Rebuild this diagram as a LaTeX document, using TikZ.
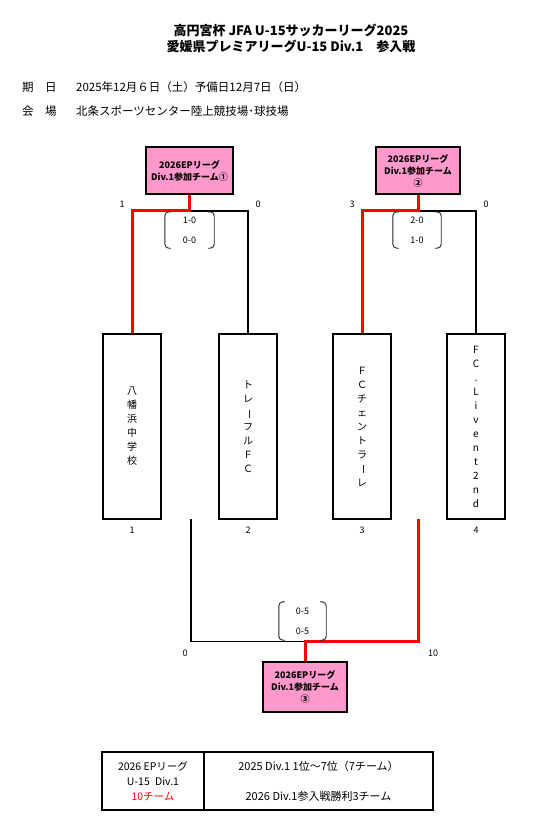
\documentclass[tikz,border=0pt]{standalone}
\usepackage{fontspec}
\usepackage{graphicx}
\setmainfont{Noto Sans CJK JP}
\usetikzlibrary{calc}
\definecolor{epink}{RGB}{255,153,204}
\definecolor{ered}{RGB}{255,0,0}
\newcommand{\vbar}{\rotatebox[origin=c]{-90}{ー}}
\begin{document}
\begin{tikzpicture}[x=1pt,y=-1pt,
  pinkbox/.style={draw, line width=1.5pt, fill=epink, align=center,
    font=\bfseries\fontsize{9}{12}\selectfont, inner sep=0pt, minimum height=47pt},
  teambox/.style={draw, line width=1.5pt, fill=white, align=center,
    minimum width=58pt, minimum height=185pt, inner sep=0pt,
    font=\fontsize{10}{14}\selectfont},
  blk/.style={line width=1.5pt, black},
  redl/.style={line width=3pt, ered},
  brk/.style={line width=0.9pt, black!85, rounded corners=4pt},
  score/.style={font=\fontsize{9}{10}\selectfont, inner sep=0pt},
  scorebox/.style={align=center, inner sep=0pt, font=\fontsize{9}{20}\selectfont},
  info/.style={anchor=west, inner sep=0pt, font=\fontsize{11.5}{13}\selectfont},
  cell/.style={draw, line width=1.5pt, align=center, inner sep=0pt, minimum height=58pt,
    font=\fontsize{10.5}{15}\selectfont}
]
\useasboundingbox (0,0) rectangle (533,838);

% title
\node[align=center, font=\bfseries\fontsize{13}{16}\selectfont, inner sep=0pt] (title) at (291,38)
  {高円宮杯 JFA U-15サッカーリーグ2025\\愛媛県プレミアリーグU-15 Div.1\quad 参入戦};

% info
\node[info] (l1) at (22,87) {期　日};
\node[info] (d1) at (76,87) {2025年12月６日（土）予備日12月7日（日）};
\node[info] (l2) at (22,111) {会　場};
\node[info] (d2) at (76,111) {北条スポーツセンター陸上競技場･球技場};

% top boxes
\node[pinkbox, minimum width=87pt] (t1) at (189.5,170.5) {2026EPリーグ\\Div.1参加チーム①};
\node[pinkbox, minimum width=84pt] (t2) at (418,170.5) {2026EPリーグ\\Div.1参加チーム\\②};

% team boxes
\node[teambox] (team1) at (132,426.5) {八\\幡\\浜\\中\\学\\校};
\node[teambox] (team2) at (248,426.5) {ト\\レ\\\vbar\\フ\\ル\\Ｆ\\Ｃ};
\node[teambox] (team3) at (362,426.5) {Ｆ\\Ｃ\\チ\\ェ\\ン\\ト\\ラ\\\vbar\\レ};
\node[teambox] (team4) at (476,426.5) {F\\C\\.\\L\\i\\v\\e\\n\\t\\2\\n\\d};

% bottom box
\node[pinkbox, minimum width=84pt, minimum height=50pt] (t3) at (305,687) {2026EPリーグ\\Div.1参加チーム\\③};

% connectors match 1
\coordinate (j1) at ($(t1.south)+(0,16)$);
\draw[blk] (j1) -| (team2.north);
\draw[redl] (t1.south) -- (j1) -| (team1.north);
% match 2
\coordinate (j2) at ($(t2.south)+(0,16)$);
\draw[blk] (j2) -| (team4.north);
\draw[redl] (t2.south) -- (j2) -| (team3.north);
% match 3
\coordinate (b1) at (191,519);
\coordinate (b2) at (418,519);
\coordinate (j3) at ($(t3.north)+(0,-20)$);
\draw[blk] (b1) |- (j3);
\draw[redl] (b2) |- (j3) -- (t3.north);

% scores
\node[score] (s1a) at (122,204) {1};
\node[score] (s1b) at (258,204) {0};
\node[score] (s2a) at (352,204) {3};
\node[score] (s2b) at (486,204) {0};
\node[score] (s3a) at (185,653) {0};
\node[score] (s3b) at (433,653) {10};
\node[score] (n1) at (132,530) {1};
\node[score] (n2) at (248,530) {2};
\node[score] (n3) at (362,530) {3};
\node[score] (n4) at (476,530) {4};

% score brackets
\node[scorebox, minimum width=49pt, minimum height=36pt] (sc1) at (189.5,230) {1-0\\0-0};
\node[scorebox, minimum width=48pt, minimum height=36pt] (sc2) at (417,230) {2-0\\1-0};
\node[scorebox, minimum width=47pt, minimum height=38pt] (sc3) at (302.5,621) {0-5\\0-5};
\foreach \s in {sc1,sc2,sc3}{
  \draw[brk] ([xshift=6pt]\s.north west) -- (\s.north west) -- (\s.south west) -- ([xshift=6pt]\s.south west);
  \draw[brk] ([xshift=-6pt]\s.north east) -- (\s.north east) -- (\s.south east) -- ([xshift=-6pt]\s.south east);
}

% table
\node[cell, minimum width=102pt] (tl) at (153,781) {2026 EPリーグ\\U-15\enspace Div.1\\\textcolor{ered}{10チーム}};
\node[cell, minimum width=229pt, font=\fontsize{11}{30}\selectfont] (tr) at (318.5,781) {2025 Div.1 1位～7位（7チーム）\\2026 Div.1参入戦勝利3チーム};
\end{tikzpicture}
\end{document}
